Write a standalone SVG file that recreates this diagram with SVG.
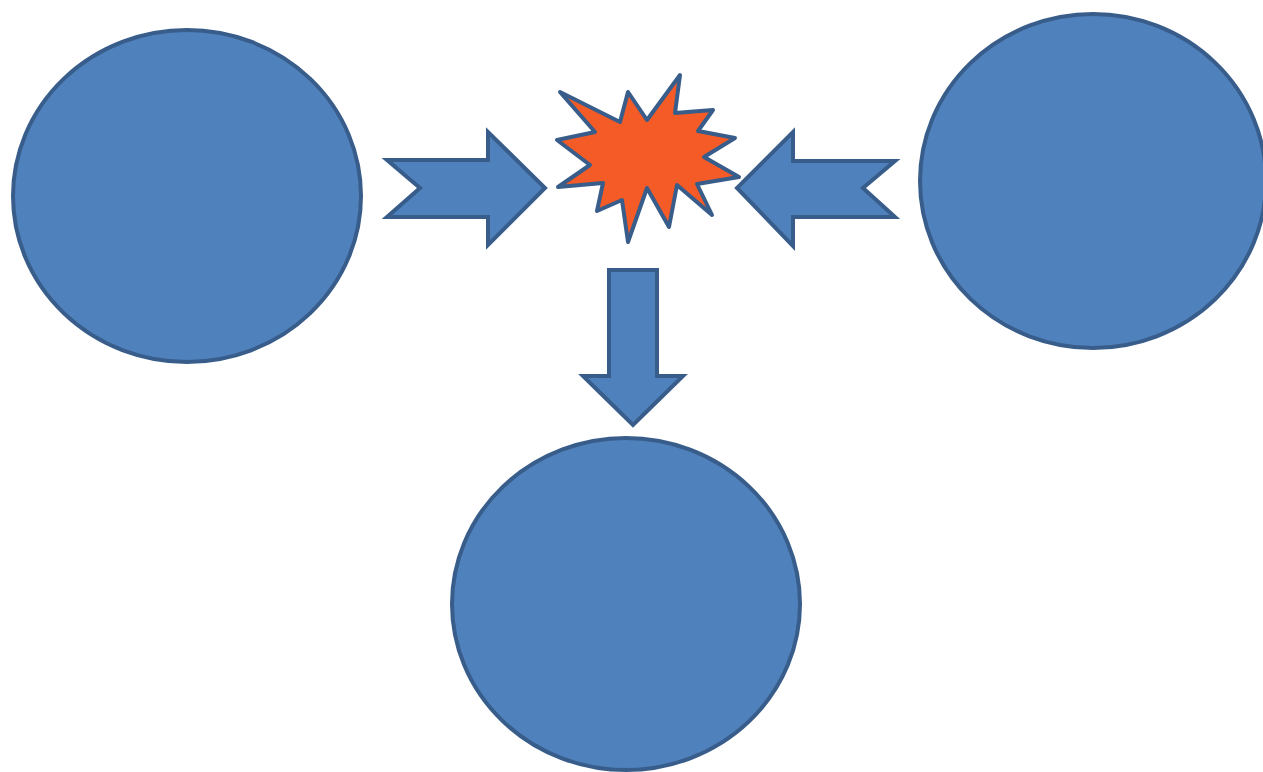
<svg xmlns="http://www.w3.org/2000/svg" width="1263" height="772" viewBox="0 0 1263 772">
<style>
.shape{fill:#4F81BD;stroke:#385D8A;stroke-width:4;stroke-linejoin:miter}
.star{fill:#F55B27;stroke:#385D8A;stroke-width:4;stroke-linejoin:round}
</style>
<rect width="1263" height="772" fill="#fff"/>
<g id="node-left"><ellipse class="shape" cx="187" cy="196" rx="174" ry="166"/></g>
<g id="node-right"><ellipse class="shape" cx="1093" cy="181" rx="173" ry="167"/></g>
<g id="node-bottom"><ellipse class="shape" cx="626" cy="604" rx="174" ry="166"/></g>
<g id="node-burst"><polygon class="star" points="680,75 675,113 713,110 698,131 735,138 704,157 739,177 697,184 712,215 677,185 669,227 647,188 628,242 622,200 597,211 603,183 558,187 590,165 557,140 595,132 560,92 620,122 628,92 647,120"/></g>
<g id="connectors">
<polygon class="shape" points="387,160 488,160 488,132 545,188 488,245 488,217 387,217 420,188"/>
<polygon class="shape" points="895,161 793,161 793,132 737,188 793,246 793,217 895,217 863,188"/>
<polygon class="shape" points="609,270 657,270 657,376 683,376 633,425 583,376 609,376"/>
</g>
</svg>
